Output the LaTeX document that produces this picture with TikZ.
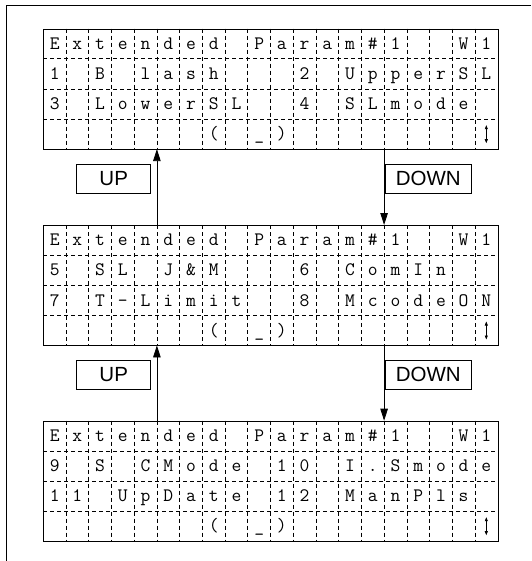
\documentclass[tikz,border=0pt]{standalone}
\usepackage{fontspec}
\setmainfont{Liberation Sans}
\usetikzlibrary{arrows.meta}

\begin{document}
\begin{tikzpicture}[
   x=1pt,y=-1pt,>={Triangle[length=12pt,width=7.5pt]},
   lcdbox/.style={draw,line width=0.9pt,minimum width=454.4pt,
     minimum height=120.4pt,inner sep=0pt,anchor=north west},
   lcdsep/.style={line width=0.6pt,dash pattern=on 4pt off 3pt},
   lcdchar/.style={inner sep=0pt,anchor=base,
     font=\ttfamily\fontsize{19}{19}\selectfont},
   lcdscroll/.style={line width=0.6pt,
     {Triangle[length=4pt,width=3pt]}-{Triangle[length=4pt,width=3pt]}},
   keybox/.style={draw,line width=0.8pt,minimum height=29pt,inner sep=0pt,
     font=\fontsize{20.5}{20.5}\selectfont},
   keyline/.style={->,line width=0.8pt}
 ]
 \useasboundingbox (0,0) rectangle (531,561);
 \draw[line width=0.9pt] (6,561) -- (6,5.5) -- (531,5.5);
 % The three screens: frame, cell grid, top and bottom lines.
 \foreach \g/\top in {1/28.7,2/225,3/420.7} {
   \node[lcdbox] (lcd\g) at (43.3,\top) {};
   \foreach \c in {1,...,19}
     \draw[lcdsep] (43.3+\c*22.72,\top) -- (43.3+\c*22.72,\top+120.4);
   \foreach \r in {1,2,3}
     \draw[lcdsep] (43.3,\top+\r*30.1) -- (497.7,\top+\r*30.1);
   \foreach \ch [count=\c from 0] in
       {E,x,t,e,n,d,e,d,{},P,a,r,a,m,\#,1,{},{},W,1}
     \node[lcdchar] (lcd\g-1-\c) at (54.66+\c*22.72,\top+20.8) {\ch};
   \node[lcdchar] (lcd\g-4-7) at (54.66+7*22.72,\top+111.1) {(};
   \node[lcdchar] (lcd\g-4-9) at (54.66+9*22.72,\top+111.1) {\_};
   \node[lcdchar] (lcd\g-4-10) at (54.66+10*22.72,\top+111.1) {)};
   \draw[lcdscroll] (486.3,\top+96.5) -- (486.3,\top+114.5);
   \coordinate (lcd\g-top5) at (156.9,\top);
   \coordinate (lcd\g-bot5) at (156.9,\top+120.4);
   \coordinate (lcd\g-top15) at (384.1,\top);
   \coordinate (lcd\g-bot15) at (384.1,\top+120.4);
 }
 % Menu lines of each screen.
 \foreach \g/\top/\r/\row in {
   1/28.7/2/{1,{},B,{},l,a,s,h,{},{},{},2,{},U,p,p,e,r,S,L},
   1/28.7/3/{3,{},L,o,w,e,r,S,L,{},{},4,{},S,L,m,o,d,e,{}},
   2/225/2/{5,{},S,L,{},J,\&,M,{},{},{},6,{},C,o,m,I,n,{},{}},
   2/225/3/{7,{},T,-,L,i,m,i,t,{},{},8,{},M,c,o,d,e,O,N},
   3/420.7/2/{9,{},S,{},C,M,o,d,e,{},1,0,{},I,.,S,m,o,d,e},
   3/420.7/3/{1,1,{},U,p,D,a,t,e,{},1,2,{},M,a,n,P,l,s,{}}} {
   \foreach \ch [count=\c from 0] in \row
     \node[lcdchar] (lcd\g-\r-\c) at (54.66+\c*22.72,\top+\r*30.1-9.3) {\ch};
 }
 % Key presses between the screens.
 \foreach \a/\b/\y in {1/2/178.5,2/3/374.5} {
   \node[keybox,minimum width=74pt] (up\a) at (113.7,\y) {UP};
   \node[keybox,minimum width=86pt] (down\a) at (428.3,\y) {DOWN};
   \draw[keyline] (lcd\b-top5) -- (lcd\a-bot5);
   \draw[keyline] (lcd\a-bot15) -- (lcd\b-top15);
 }
\end{tikzpicture}
\end{document}
